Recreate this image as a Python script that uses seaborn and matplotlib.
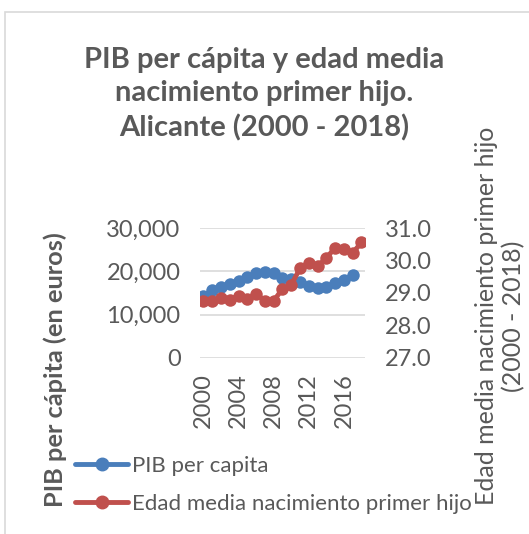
import pandas as pd
import matplotlib.pyplot as plt
import matplotlib.ticker as mticker
from matplotlib.lines import Line2D
from matplotlib.patches import Rectangle
import seaborn as sns

# ===============================
# 1. DATOS
# ===============================

years_pib = list(range(2000, 2018))
pib = [14300, 15700, 16400, 17000, 17700, 18700, 19500, 19800, 19600,
       18400, 18100, 17500, 16500, 16100, 16400, 17200, 18000, 19100]

years_edad = list(range(2000, 2019))
edad = [28.74, 28.76, 28.84, 28.79, 28.90, 28.81, 28.96, 28.76, 28.76,
        29.12, 29.25, 29.76, 29.92, 29.82, 30.08, 30.39, 30.36, 30.23, 30.56]

xticks = [2000, 2004, 2008, 2012, 2016]

df_pib = pd.DataFrame({"anio": years_pib, "pib": pib})
df_edad = pd.DataFrame({"anio": years_edad, "edad": edad})

BLUE = "#4A7EBB"
RED = "#C0504D"
GRAY = "#595959"

# ===============================
# 2. ESTILO
# ===============================

sns.set_style("white")
plt.rcParams["font.family"] = ["Lato", "DejaVu Sans"]

fig = plt.figure(figsize=(5.29, 5.34), dpi=100)
ax = fig.add_axes([0.378, 0.330, 0.312, 0.243])
ax2 = ax.twinx()

# borde del gráfico
fig.patches.append(Rectangle((5 / 529, -0.1), 1.2, 1 - 12 / 534 + 0.1,
                             transform=fig.transFigure, fill=False,
                             edgecolor="#D9D9D9", linewidth=1.2))

# ===============================
# 3. LÍNEAS
# ===============================

sns.lineplot(data=df_pib, x="anio", y="pib", ax=ax, color=BLUE,
             marker="o", markersize=9, markeredgewidth=0, linewidth=3.5)
sns.lineplot(data=df_edad, x="anio", y="edad", ax=ax2, color=RED,
             marker="o", markersize=9, markeredgewidth=0, linewidth=3.5)

ax.set_ylim(0, 30000)
ax.set_yticks([0, 10000, 20000, 30000])
ax.yaxis.set_major_formatter(mticker.FuncFormatter(lambda v, p: f"{v:,.0f}"))
ax2.set_ylim(27, 31)
ax2.set_yticks([27, 28, 29, 30, 31])
ax2.yaxis.set_major_formatter(mticker.FormatStrFormatter("%.1f"))
ax.set_xlim(1999.6, 2018.4)
ax.set_xticks(xticks)
ax.set_xticklabels([str(x) for x in xticks], rotation=90)

ax.yaxis.grid(True, color="#D9D9D9", linewidth=1.2)
ax.set_axisbelow(True)
for a in (ax, ax2):
    for s in a.spines.values():
        s.set_visible(False)
    a.tick_params(length=0, colors=GRAY, labelsize=17)
ax.tick_params(axis="y", pad=14)
ax2.tick_params(axis="y", pad=14)
ax.tick_params(axis="x", pad=11)
ax.set_xlabel("")
ax.set_ylabel("")
ax2.set_ylabel("")

# ===============================
# 4. TEXTOS
# ===============================

fig.text(0.5, 1 - 94 / 534, "PIB per cápita y edad media\nnacimiento primer hijo.\nAlicante (2000 - 2018)",
         ha="center", va="center", fontsize=21, fontweight="bold", color=GRAY,
         linespacing=1.35)
fig.text(55 / 529, 1 - 370 / 534, "PIB per cápita (en euros)", rotation=90,
         ha="center", va="center", fontsize=18.3, fontweight="bold", color=GRAY)
fig.text(500 / 529, 1 - 316 / 534, "Edad media nacimiento primer hijo\n(2000 - 2018)",
         rotation=90, ha="center", va="center", fontsize=18, color=GRAY,
         linespacing=1.22)

handles = [Line2D([], [], color=BLUE, marker="o", markersize=9, linewidth=3.5),
           Line2D([], [], color=RED, marker="o", markersize=9, linewidth=3.5)]
fig.legend(handles, ["PIB per capita", "Edad media nacimiento primer hijo"],
           loc="center left", bbox_to_anchor=(66 / 529, 1 - 485 / 534),
           frameon=False, fontsize=16, labelcolor=GRAY, handlelength=2.4,
           handletextpad=0.15, labelspacing=0.8, borderaxespad=0)

plt.savefig("out.png", dpi=100)
plt.close()
